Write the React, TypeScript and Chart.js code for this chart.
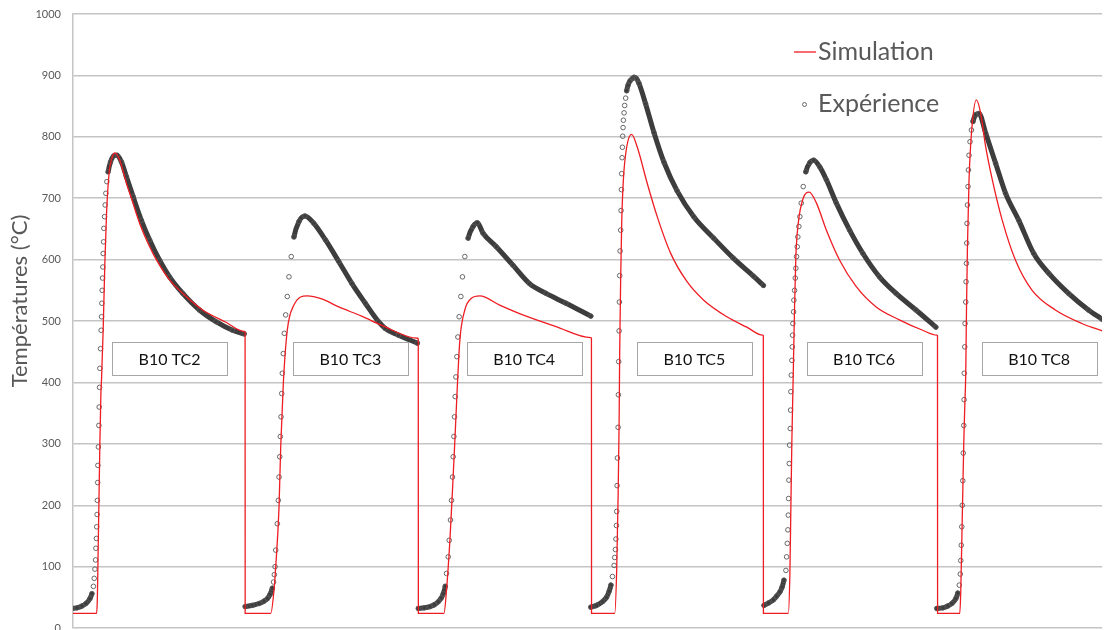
import React, { useEffect, useRef } from 'react';
import { Chart, registerables } from 'chart.js';

Chart.register(...registerables);

// ---------- data (time in arbitrary units, temperature in °C) ----------
const yTitle = 'Températures (°C)';
const seriesNames = ['Simulation', 'Expérience'];
const tcLabels = ['B10 TC2', 'B10 TC3', 'B10 TC4', 'B10 TC5', 'B10 TC6', 'B10 TC8'];
const yMin = 0;
const yMax = 1000;
const yStep = 100;
const tMax = 1034;

const simulation: [number, number][] = [
  [-2, 24], [23.7, 24], [24.5, 50], [25.2, 120], [26, 200], [27, 300], [28, 380], [28.7, 407], [30.3, 485], [32, 594],
  [33.7, 675], [36.3, 741], [39.7, 768], [42, 774], [47, 762], [53.7, 724], [58.7, 700], [67, 659], [77, 621], [83.7, 600],
  [97, 567], [113.7, 540], [130.3, 518], [153.7, 498], [172.3, 483], [172.9, 482], [173, 24],
  [198.7, 24], [202, 62], [203.7, 100], [207, 197], [208.7, 295], [211.3, 398], [215.3, 485], [222, 526], [235.3, 541],
  [250, 536], [267, 523], [290, 508], [310.3, 493], [346.3, 472], [346.9, 471], [347, 24],
  [372.7, 24], [375.3, 62], [378.7, 143], [381.3, 225], [383.7, 306], [386, 388], [388.7, 469], [393.7, 518], [400.3, 537],
  [408.7, 541], [428.7, 526], [452, 510], [485.3, 491], [520.3, 473], [520.9, 472], [521, 24],
  [544.3, 24], [546.3, 96], [547.7, 214], [548.7, 333], [549.3, 451], [550.3, 570], [551.3, 659], [553, 730], [556.3, 783],
  [561.3, 804], [567, 783], [577, 724], [587, 670], [600.3, 611], [617, 564], [633.7, 534], [657, 507], [677, 490],
  [693, 477], [693.6, 476], [693.7, 24],
  [718.7, 24], [720.3, 89], [721.3, 198], [722.3, 306], [723.7, 415], [725, 523], [726.3, 605], [728.7, 659], [733.7, 700],
  [739.7, 710], [747, 692], [757, 648], [770.3, 599], [787, 556], [807, 523], [830.3, 502], [853.7, 485], [868, 477],
  [868.6, 476], [868.7, 24],
  [891, 24], [892, 60], [893, 140], [894, 220], [895, 300], [896, 360], [897, 415], [897.7, 513], [898.7, 621], [900.3, 730],
  [903, 811], [907.7, 860], [912, 838], [917, 784], [923.7, 730], [933.7, 664], [947, 599], [963.7, 550], [987, 518],
  [1013.7, 496], [1036, 483],
];

const expTC2: [number, number][] = [
  [-1, 32], [4, 33], [9, 36], [13, 40], [17, 48], [19, 56], [20.5, 68], [21.3, 81], [22, 96], [22.7, 111], [23, 130],
  [23.5, 146], [23.8, 165], [24.2, 185], [24.5, 208], [24.8, 237], [25, 265], [25.5, 295], [26, 330], [26.3, 360],
  [26.7, 392], [27, 423], [27.7, 455], [28.3, 485], [28.7, 507], [29, 529], [29.3, 550], [29.7, 570], [30, 588],
  [30.3, 610], [30.7, 629], [31, 651], [31.7, 670], [32.3, 689], [33, 708], [34, 727], [35.3, 743], [37.7, 759],
  [41, 769], [44.3, 770], [48.7, 759], [53.7, 735], [60.3, 703], [68.7, 664], [77, 632], [87, 599], [97, 572],
  [110.3, 545], [127, 518], [143.7, 499], [160.3, 485], [172, 479],
];

const expTC3: [number, number][] = [
  [173, 35], [180, 37], [187, 40], [192, 44], [195.3, 48], [198, 55], [200.3, 65], [201.5, 75], [202.3, 87], [203, 100],
  [203.7, 127], [205.3, 170], [206.3, 208], [207, 246], [207.7, 279], [208.3, 312], [209, 344], [209.7, 382], [210.3, 415],
  [211.3, 447], [212.3, 480], [213.7, 510], [215.3, 540], [217, 572], [219.3, 605], [222, 637], [227, 662], [233, 671],
  [242, 659], [253.7, 632], [267, 597], [280.3, 561], [293.7, 529], [307, 499], [313.7, 488], [327, 477], [346, 464],
];

const expTC4: [number, number][] = [
  [347, 32], [353, 33], [358.7, 35], [363, 38], [367, 43], [370, 49], [372, 56], [374, 68], [375.3, 89], [377, 116],
  [378, 143], [379.3, 176], [380.3, 208], [381.3, 246], [382, 279], [382.7, 312], [383.3, 344], [384, 377], [384.7, 409],
  [385.7, 442], [386.7, 474], [388, 507], [389.7, 540], [391.3, 572], [393.7, 605], [397, 635], [402, 654], [406.3, 660],
  [412, 643], [425.3, 621], [442, 591], [458.7, 561], [475.3, 545], [495.3, 529], [520.3, 508],
];

const expTC5: [number, number][] = [
  [520.3, 34], [526, 37], [532, 43], [536, 50], [538.7, 60], [540.5, 70], [542, 84], [543.7, 102], [544.3, 115], [545, 128],
  [545.5, 145], [546, 167], [546.3, 190], [546.7, 232], [547, 277], [547.7, 327], [548, 380], [548.3, 434], [548.7, 484],
  [549, 531], [549.3, 574], [549.7, 614], [550.3, 648], [550.7, 680], [551, 714], [551.3, 740], [551.7, 766], [552, 783],
  [552.3, 801], [552.7, 815], [553, 827], [553.7, 839], [554.3, 851], [555.3, 863], [556.3, 875], [557.7, 884],
  [559.7, 891], [562, 895], [563.7, 897], [566, 895], [568.7, 887], [575.3, 854], [583.7, 807], [593.7, 759], [607, 712],
  [623.7, 670], [643.7, 635], [663.7, 602], [683.7, 573], [693.7, 558],
];

const expTC6: [number, number][] = [
  [694.3, 37], [699, 41], [703.7, 46], [707, 52], [710.3, 59], [712.5, 67], [714.3, 78], [716.3, 94], [717, 116],
  [717.7, 138], [718.3, 160], [718.7, 184], [719, 211], [719.3, 241], [719.7, 268], [720, 298], [720.7, 325], [721, 355],
  [721.3, 385], [721.7, 412], [722.3, 436], [722.7, 458], [723, 477], [723.3, 496], [724, 515], [724.3, 534], [725, 550],
  [725.7, 570], [726.3, 586], [727, 605], [727.7, 621], [728.3, 637], [729.3, 654], [730.3, 670], [731.7, 692],
  [733.7, 719], [736.3, 743], [740.3, 758], [744.3, 762], [750.3, 751], [757, 730], [767, 692], [780.3, 648],
  [793.7, 610], [810.3, 572], [827, 545], [847, 518], [867, 490],
];

const expTC8: [number, number][] = [
  [868, 32], [874, 33], [879, 36], [883, 40], [887, 48], [889, 57], [890.5, 70], [891.5, 88], [892, 110], [892.5, 135],
  [893, 165], [893.5, 200], [894, 240], [894.5, 285], [895, 330], [895.3, 372], [895.5, 415], [896, 458], [896.3, 496],
  [897, 531], [897.3, 564], [897.7, 594], [898, 627], [898.3, 659], [898.7, 689], [899.3, 719], [899.7, 746], [900.3, 770],
  [901.3, 792], [902.7, 811], [904.3, 825], [907, 836], [910.3, 838], [917, 806], [927, 757], [937, 708], [950.3, 664],
  [965.3, 610], [980.3, 578], [1000.3, 545], [1020.3, 518], [1034, 503],
];

const experiments = [expTC2, expTC3, expTC4, expTC5, expTC6, expTC8];

// ---------- layout constants ----------
const boxCentersT = [97, 278.7, 453.3, 624.3, 794.8, 970.8];
const boxCenterTemp = 439;
const FONT = 'Lato, "Open Sans", sans-serif';
const GREY_TEXT = '#595959';
const RED = '#ee1d23';

const overlayPlugin = {
  id: 'overlay',
  afterDatasetsDraw(chart: any) {
    const { ctx, scales } = chart;
    const xs = scales.x;
    const ys = scales.y;
    ctx.save();
    // label boxes
    tcLabels.forEach((lab, i) => {
      const cx = xs.getPixelForValue(boxCentersT[i]);
      const cy = ys.getPixelForValue(boxCenterTemp);
      const w = 115;
      const h = 33;
      const l = Math.round(cx - w / 2) + 0.5;
      const t = Math.round(cy - h / 2) + 0.5;
      ctx.fillStyle = '#ffffff';
      ctx.fillRect(l, t, w, h);
      ctx.strokeStyle = '#a6a6a6';
      ctx.lineWidth = 1;
      ctx.strokeRect(l, t, w, h);
      ctx.fillStyle = '#111111';
      ctx.font = `16px ${FONT}`;
      ctx.textAlign = 'center';
      ctx.textBaseline = 'middle';
      ctx.fillText(lab, cx, cy + 1);
    });
    // legend
    ctx.strokeStyle = RED;
    ctx.lineWidth = 1.3;
    ctx.beginPath();
    ctx.moveTo(794, 52);
    ctx.lineTo(816, 52);
    ctx.stroke();
    ctx.strokeStyle = '#595959';
    ctx.lineWidth = 0.9;
    ctx.beginPath();
    ctx.arc(804.5, 104.5, 2, 0, Math.PI * 2);
    ctx.stroke();
    ctx.fillStyle = GREY_TEXT;
    ctx.font = `25px ${FONT}`;
    ctx.textAlign = 'left';
    ctx.textBaseline = 'middle';
    ctx.fillText(seriesNames[0], 818, 52);
    ctx.fillText(seriesNames[1], 818, 104);
    // y title
    ctx.translate(20, 301);
    ctx.rotate(-Math.PI / 2);
    ctx.font = `22px ${FONT}`;
    ctx.textAlign = 'center';
    ctx.textBaseline = 'middle';
    ctx.fillText(yTitle, 0, 0);
    ctx.restore();
  },
};

export default function App() {
  const canvasRef = useRef<HTMLCanvasElement | null>(null);

  useEffect(() => {
    const canvas = canvasRef.current;
    if (!canvas) return;
    const toXY = (arr: [number, number][]) => arr.map(([x, y]) => ({ x, y }));
    const expDatasets = experiments.map((arr, i) => ({
      label: i === 0 ? seriesNames[1] : `${seriesNames[1]} ${tcLabels[i]}`,
      data: toXY(arr),
      showLine: true,
      borderWidth: 5,
      borderColor: '#3d3d3d',
      borderJoinStyle: 'round' as const,
      borderCapStyle: 'round' as const,
      cubicInterpolationMode: 'monotone' as const,
      pointRadius: 2.3,
      pointBorderWidth: 0.9,
      pointBorderColor: '#585858',
      pointBackgroundColor: 'rgba(0,0,0,0)',
      segment: {
        borderColor: (c: any) => {
          const dx = Math.abs(c.p1.x - c.p0.x);
          const dy = Math.abs(c.p1.y - c.p0.y);
          return dy > 4.5 * dx ? 'rgba(0,0,0,0)' : '#3d3d3d';
        },
      },
      order: 2,
    }));
    const chart = new Chart(canvas, {
      type: 'line',
      data: {
        datasets: [
          {
            label: seriesNames[0],
            data: toXY(simulation),
            borderColor: RED,
            borderWidth: 1.3,
            pointRadius: 0,
            cubicInterpolationMode: 'monotone',
            order: 1,
          } as any,
          ...expDatasets,
        ],
      },
      options: {
        animation: false,
        responsive: false,
        events: [],
        layout: { padding: { top: 14, bottom: 0, left: 0, right: 0 } },
        plugins: {
          legend: { display: false },
          tooltip: { enabled: false },
          title: { display: false },
        },
        scales: {
          x: {
            type: 'linear',
            min: 0,
            max: tMax,
            display: false,
          },
          y: {
            min: yMin,
            max: yMax,
            afterFit: (s: any) => {
              s.width = 73;
              s.paddingTop = 0;
              s.paddingBottom = 0;
            },
            ticks: {
              stepSize: yStep,
              padding: 12,
              color: GREY_TEXT,
              font: { family: FONT, size: 11 },
              callback: (v: any) => String(v),
            },
            grid: {
              color: '#c4c4c4',
              lineWidth: 1.5,
              drawTicks: false,
            },
            border: { display: true, color: '#c4c4c4', width: 1.5 },
          },
        },
      },
      plugins: [overlayPlugin],
    });
    return () => chart.destroy();
  }, []);

  return (
    <div style={{ position: 'absolute', left: 0, top: 0, width: 1107, height: 630, overflow: 'hidden', background: '#fff' }}>
      <canvas ref={canvasRef} width={1107} height={633} style={{ display: 'block' }} />
    </div>
  );
}
